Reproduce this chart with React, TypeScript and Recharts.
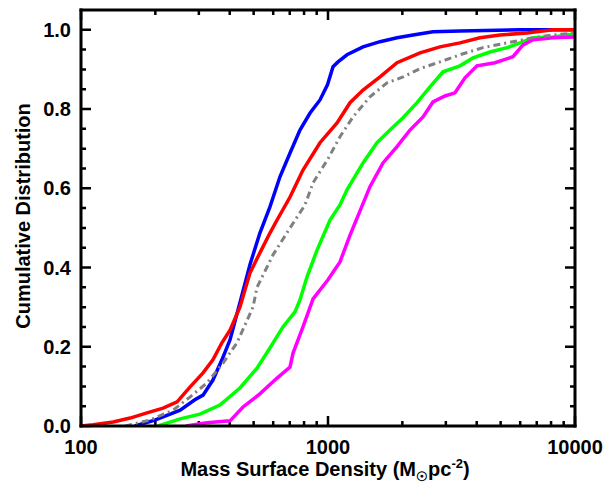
import React from "react";
import { LineChart, Line, XAxis, YAxis } from "recharts";

// cumulative distributions: [surface density, fraction]
const blue = [
  [165, 0], [199, 0.015], [252, 0.04], [289, 0.066], [312, 0.078], [342, 0.116],
  [372, 0.167], [401, 0.217], [440, 0.311], [483, 0.407], [530, 0.487], [582, 0.553],
  [639, 0.629], [702, 0.689], [770, 0.747], [846, 0.79], [928, 0.823], [995, 0.861],
  [1048, 0.907], [1098, 0.919], [1194, 0.937], [1386, 0.957], [1624, 0.97], [1903, 0.98],
  [2209, 0.987], [2661, 0.995], [3422, 0.997], [5988, 1.0], [10000, 1.0],
];
const red = [
  [100, 0], [112, 0.003], [135, 0.01], [158, 0.02], [185, 0.033], [215, 0.045],
  [245, 0.061], [276, 0.098], [312, 0.134], [342, 0.167], [372, 0.21], [401, 0.242],
  [440, 0.3], [483, 0.386], [530, 0.437], [582, 0.487], [622, 0.52], [702, 0.578],
  [792, 0.646], [928, 0.715], [1088, 0.765], [1228, 0.816], [1386, 0.848], [1624, 0.881],
  [1903, 0.917], [2358, 0.942], [2841, 0.957], [3422, 0.967], [4124, 0.98], [4970, 0.987],
  [6393, 0.992], [8147, 1.0], [10000, 1.0],
];
const gray = [
  [151, 0], [190, 0.015], [236, 0.04], [276, 0.073], [324, 0.109], [376, 0.159],
  [428, 0.21], [497, 0.3], [516, 0.35], [599, 0.432], [702, 0.5], [807, 0.558],
  [870, 0.614], [995, 0.672], [1118, 0.73], [1262, 0.78], [1479, 0.831], [1734, 0.866],
  [2013, 0.881], [2358, 0.902], [2841, 0.919], [3422, 0.937], [4242, 0.955], [5306, 0.967],
  [6761, 0.98], [8147, 0.987], [10000, 0.992],
];
const green = [
  [205, 0], [252, 0.018], [303, 0.03], [365, 0.053], [440, 0.096], [516, 0.146],
  [582, 0.197], [657, 0.25], [735, 0.288], [770, 0.318], [822, 0.376], [903, 0.444],
  [1019, 0.52], [1118, 0.558], [1194, 0.596], [1386, 0.664], [1579, 0.715], [1782, 0.747],
  [2013, 0.778], [2293, 0.816], [2588, 0.856], [2921, 0.894], [3422, 0.909], [3864, 0.929],
  [4528, 0.944], [5306, 0.955], [5988, 0.967], [6761, 0.98], [8147, 0.982], [10000, 0.99],
];
const magenta = [
  [266, 0], [324, 0.008], [401, 0.013], [453, 0.048], [530, 0.081], [622, 0.121],
  [702, 0.149], [722, 0.184], [792, 0.25], [870, 0.321], [1000, 0.369], [1118, 0.414],
  [1228, 0.482], [1348, 0.543], [1479, 0.604], [1670, 0.664], [1903, 0.705], [2148, 0.747],
  [2425, 0.78], [2661, 0.818], [2976, 0.833], [3267, 0.841], [3587, 0.879], [4010, 0.909],
  [4745, 0.917], [5610, 0.932], [6159, 0.962], [6761, 0.975], [8147, 0.98], [10000, 0.982],
];

const xTicks = [
  100, 200, 300, 400, 500, 600, 700, 800, 900,
  1000, 2000, 3000, 4000, 5000, 6000, 7000, 8000, 9000, 10000,
];
const xLabels = [100, 1000, 10000];
const yTicks = [
  0, 0.05, 0.1, 0.15, 0.2, 0.25, 0.3, 0.35, 0.4, 0.45, 0.5,
  0.55, 0.6, 0.65, 0.7, 0.75, 0.8, 0.85, 0.9, 0.95, 1.0,
];
const yLabels = [0, 0.2, 0.4, 0.6, 0.8, 1.0];

const X_MIN = 100;
const X_MAX = 10000;
const Y_MAX = 1.05;

const font = "'Liberation Sans', Arial, sans-serif";
const isMajorY = (v: number) => yLabels.some((l) => Math.abs(l - v) < 1e-6);

// plot box in pixels (set by the margins and axis sizes below)
const LEFT = 81;
const RIGHT = 575;
const TOP = 10;
const BOTTOM = 426;
const px = (v: number) => LEFT + ((RIGHT - LEFT) * Math.log10(v / X_MIN)) / Math.log10(X_MAX / X_MIN);
const py = (v: number) => BOTTOM - ((BOTTOM - TOP) * v) / Y_MAX;

const axisLine = { stroke: "#000", strokeWidth: 3, strokeLinecap: "square" as const };

const series = [
  { name: "blue", data: blue, color: "#0000ff", dash: undefined, width: 3.5 },
  { name: "green", data: green, color: "#00ff00", dash: undefined, width: 3.5 },
  { name: "magenta", data: magenta, color: "#ff00ff", dash: undefined, width: 3.5 },
  { name: "red", data: red, color: "#ff0000", dash: undefined, width: 3.5 },
  { name: "gray", data: gray, color: "#808080", dash: "7 4 2 4", width: 3 },
];

const lines = series.map((s) => ({ ...s, points: s.data.map(([x, y]) => ({ x, y })) }));

// inward tick marks on the four sides of the frame
const tickPath = [
  ...xTicks.map((v) => {
    const len = xLabels.includes(v) ? 10 : 5;
    const x = px(v);
    return `M${x},${BOTTOM}V${BOTTOM - len}M${x},${TOP}V${TOP + len}`;
  }),
  ...yTicks.map((v) => {
    const len = isMajorY(v) ? 10 : 5;
    const y = py(v);
    return `M${LEFT},${y}H${LEFT + len}M${RIGHT},${y}H${RIGHT - len}`;
  }),
].join("");

export default function App() {
  return (
    <div style={{ position: "absolute", left: 0, top: 0, background: "#fff" }}>
      <LineChart width={609} height={485} margin={{ top: 9, right: 33, bottom: 0, left: 0 }}>
        <XAxis
          xAxisId="b"
          dataKey="x"
          type="number"
          scale="log"
          domain={[X_MIN, X_MAX]}
          ticks={xLabels}
          interval={0}
          tickSize={0}
          tickMargin={14}
          tickLine={false}
          axisLine={axisLine}
          tick={{ fontSize: 20, fontWeight: "bold", fontFamily: font, fill: "#000" }}
          height={59}
          allowDataOverflow
        />
        <XAxis
          xAxisId="t"
          dataKey="x"
          orientation="top"
          type="number"
          scale="log"
          domain={[X_MIN, X_MAX]}
          tickLine={false}
          tick={false}
          axisLine={axisLine}
          height={1}
          allowDataOverflow
        />
        <YAxis
          yAxisId="l"
          type="number"
          domain={[0, Y_MAX]}
          ticks={yLabels}
          interval={0}
          tickSize={0}
          tickMargin={10}
          tickLine={false}
          axisLine={axisLine}
          tickFormatter={(v: number) => v.toFixed(1)}
          tick={{ fontSize: 20, fontWeight: "bold", fontFamily: font, fill: "#000" }}
          width={81}
          allowDataOverflow
        />
        <YAxis
          yAxisId="r"
          orientation="right"
          type="number"
          domain={[0, Y_MAX]}
          tickLine={false}
          tick={false}
          axisLine={axisLine}
          width={1}
          allowDataOverflow
        />
        {/* invisible copy so the top/right frame axes get a scale */}
        <Line
          xAxisId="t"
          yAxisId="r"
          data={lines[4].points}
          dataKey="y"
          stroke="none"
          dot={false}
          activeDot={false}
          isAnimationActive={false}
        />
        {lines.map((s) => (
          <Line
            key={s.name}
            xAxisId="b"
            yAxisId="l"
            data={s.points}
            dataKey="y"
            type="linear"
            stroke={s.color}
            strokeWidth={s.width}
            strokeDasharray={s.dash}
            dot={false}
            isAnimationActive={false}
          />
        ))}
        <path d={tickPath} stroke="#000" strokeWidth={2.5} fill="none" />
        <text
          x={30}
          y={216}
          transform="rotate(-90, 30, 216)"
          textAnchor="middle"
          fontSize={20}
          fontWeight="bold"
          fontFamily={font}
          fill="#000"
        >
          Cumulative Distribution
        </text>
        <text x={325} y={476} textAnchor="middle" fontSize={20} fontWeight="bold" fontFamily={font} fill="#000">
          Mass Surface Density (M
          <tspan fontSize={13} dy={5}>☉</tspan>
          <tspan dy={-5}>pc</tspan>
          <tspan fontSize={13} dy={-8}>-2</tspan>
          <tspan dy={8}>)</tspan>
        </text>
      </LineChart>
    </div>
  );
}
